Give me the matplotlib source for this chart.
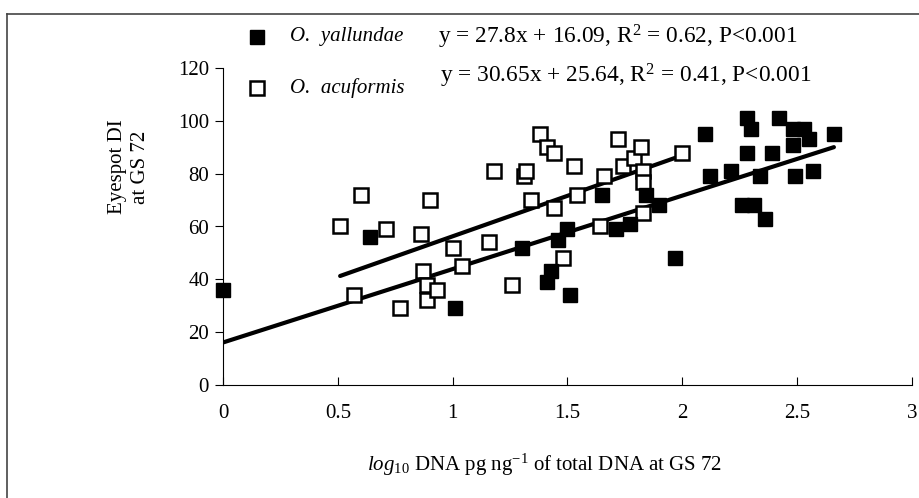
import matplotlib
matplotlib.use("Agg")
import matplotlib.pyplot as plt
from matplotlib.lines import Line2D

plt.rcParams['font.family'] = 'Liberation Serif'
plt.rcParams['mathtext.fontset'] = 'custom'
plt.rcParams['mathtext.rm'] = 'Liberation Serif'
plt.rcParams['mathtext.it'] = 'Liberation Serif:italic'

# O. yallundae (filled squares)
yal_x = [0.00, 0.64, 1.01, 1.30, 1.41, 1.43, 1.46, 1.50, 1.51, 1.65, 1.71, 1.77,
         1.84, 1.90, 1.97, 2.10, 2.12, 2.21, 2.26, 2.28, 2.28, 2.30, 2.31, 2.34,
         2.36, 2.39, 2.42, 2.48, 2.48, 2.49, 2.53, 2.55, 2.57, 2.66]
yal_y = [36, 56, 29, 52, 39, 43, 55, 59, 34, 72, 59, 61,
         72, 68, 48, 95, 79, 81, 68, 88, 101, 97, 68, 79,
         63, 88, 101, 97, 91, 79, 97, 93, 81, 95]

# O. acuformis (open squares)
acu_x = [0.51, 0.57, 0.60, 0.71, 0.77, 0.86, 0.87, 0.89, 0.89, 0.90, 0.93, 1.00,
         1.04, 1.16, 1.18, 1.26, 1.31, 1.32, 1.34, 1.38, 1.41, 1.44, 1.44, 1.48,
         1.53, 1.54, 1.64, 1.66, 1.72, 1.74, 1.79, 1.82, 1.83, 1.83, 1.83, 2.00]
acu_y = [60, 34, 72, 59, 29, 57, 43, 38, 32, 70, 36, 52,
         45, 54, 81, 38, 79, 81, 70, 95, 90, 88, 67, 48,
         83, 72, 60, 79, 93, 83, 86, 90, 81, 65, 77, 88]

# regression lines: slope, intercept
yal_fit = (27.8, 16.09)
acu_fit = (30.65, 25.64)

yal_eq = "y = 27.8x + 16.09, R$^2$ = 0.62, P<0.001"
acu_eq = "y = 30.65x + 25.64, R$^2$ = 0.41, P<0.001"

fig = plt.figure(figsize=(9.2, 4.98), dpi=100)
ax = fig.add_axes([223 / 920, 1 - 385 / 498, 689 / 920, 317 / 498])

ax.plot(acu_x, acu_y, 's', ms=9.5, mfc='white', mec='black', mew=1.8, ls='none',
        zorder=3, clip_on=False)
ax.plot(yal_x, yal_y, 's', ms=9.5, mfc='black', mec='black', ls='none',
        zorder=3, clip_on=False)

for xs, (m, b) in [(yal_x, yal_fit), (acu_x, acu_fit)]:
    x0, x1 = min(xs), max(xs)
    ax.plot([x0, x1], [m * x0 + b, m * x1 + b], color='black', lw=3, zorder=2,
            solid_capstyle='round')

ax.set_xlim(0, 3)
ax.set_ylim(0, 120)
ax.set_xticks([0, 0.5, 1, 1.5, 2, 2.5, 3])
ax.set_xticklabels(['0', '0.5', '1', '1.5', '2', '2.5', '3'])
ax.set_yticks(range(0, 121, 20))
ax.tick_params(axis='x', direction='in', length=6, labelsize=15, pad=14)
ax.tick_params(axis='y', direction='out', length=6, labelsize=15, pad=4)
for s in ['top', 'right']:
    ax.spines[s].set_visible(False)

ax.set_xlabel(r"$\it{log}$$_{10}$ DNA pg ng$^{-1}$ of total DNA at GS 72", fontsize=15)
ax.xaxis.set_label_coords(0.467, -0.21)
ax.set_ylabel("Eyespot DI\nat GS 72", fontsize=15, linespacing=1.3)
ax.yaxis.set_label_coords(-0.106, 0.688)

# legend rows
ax.plot([0.049], [1.098], 's', ms=9.5, mfc='black', mec='black',
        transform=ax.transAxes, clip_on=False)
ax.plot([0.049], [0.937], 's', ms=9.5, mfc='white', mec='black', mew=1.8,
        transform=ax.transAxes, clip_on=False)
fig.text(290 / 920, 1 - 37 / 498, "O.  yallundae", style='italic', fontsize=15, va='center')
fig.text(438 / 920, 1 - 37 / 498, yal_eq, fontsize=16.8, va='center')
fig.text(290 / 920, 1 - 88 / 498, "O.  acuformis", style='italic', fontsize=15, va='center')
fig.text(440 / 920, 1 - 76 / 498, acu_eq, fontsize=16.8, va='center')

# outer frame
fig.add_artist(Line2D([7 / 920, 7 / 920], [0, 1 - 14 / 498], color='#444444', lw=1.2))
fig.add_artist(Line2D([7 / 920, 1], [1 - 14 / 498, 1 - 14 / 498], color='#444444', lw=1.2))

fig.savefig("out.png", dpi=100)
